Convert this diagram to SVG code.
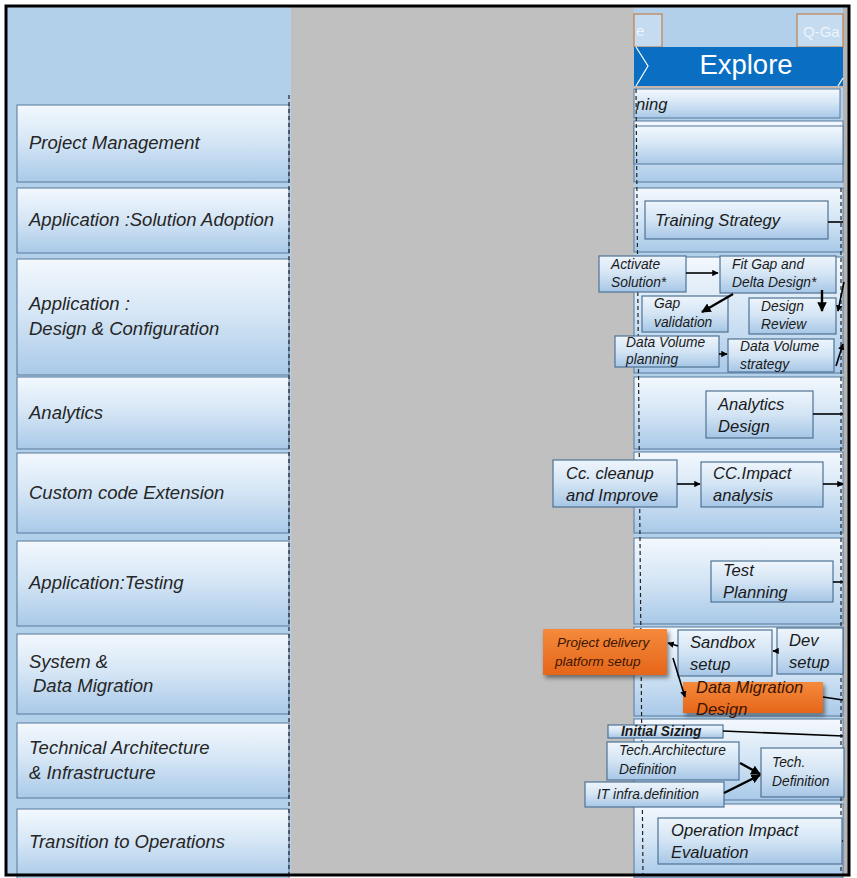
<svg xmlns="http://www.w3.org/2000/svg" width="857" height="878" viewBox="0 0 857 878">
<defs>
<linearGradient id="lane" x1="0" y1="0" x2="0" y2="1">
<stop offset="0" stop-color="#f3f8fd"/>
<stop offset="0.45" stop-color="#d7e7f6"/>
<stop offset="1" stop-color="#a9c9e8"/>
</linearGradient>
<linearGradient id="box" x1="0" y1="0" x2="0" y2="1">
<stop offset="0" stop-color="#eef5fc"/>
<stop offset="0.5" stop-color="#d3e4f4"/>
<stop offset="1" stop-color="#a6c6e6"/>
</linearGradient>
<linearGradient id="orange" x1="0" y1="0" x2="0" y2="1">
<stop offset="0" stop-color="#f58a3c"/>
<stop offset="1" stop-color="#e5661a"/>
</linearGradient>
<filter id="sh" x="-10%" y="-10%" width="130%" height="140%">
<feDropShadow dx="2" dy="3" stdDeviation="2" flood-color="#000" flood-opacity="0.45"/>
</filter>
<marker id="ah" viewBox="0 0 10 10" refX="9" refY="5" markerWidth="4" markerHeight="4" orient="auto-start-reverse">
<path d="M0,0 L10,5 L0,10 z" fill="#000"/>
</marker>
</defs>
<style>
.lane{fill:url(#lane);stroke:#56789a;stroke-width:1}
.bx{fill:url(#box);stroke:#4f7294;stroke-width:1.2}
.ob{fill:url(#orange);filter:url(#sh)}
.lt{font-family:"Liberation Sans",Arial,sans-serif;font-style:italic;font-size:18.5px;fill:#262626}
.t16{font-family:"Liberation Sans",Arial,sans-serif;font-style:italic;font-size:16.6px;fill:#1a1a1a}
.t13{font-family:"Liberation Sans",Arial,sans-serif;font-style:italic;font-size:13.8px;fill:#1a1a1a}
.ot{font-family:"Liberation Sans",Arial,sans-serif;font-style:italic;fill:#3b1500}
.dash{stroke:#222;stroke-width:1.2;stroke-dasharray:4 3;fill:none}
.cn{stroke:#000;stroke-width:1.6;fill:none}
.cnt{stroke:#000;stroke-width:2.4;fill:none}
</style>
<rect x="0" y="0" width="857" height="878" fill="#ffffff"/>
<rect x="6" y="6" width="843" height="869" fill="#b3d0eb"/>
<rect x="291" y="6" width="343" height="869" fill="#c0c0c0"/>
<rect x="843" y="6" width="6" height="869" fill="#b4b4b4"/>

<g id="left-lanes">
<g id="lane-pm"><rect class="lane" x="17" y="105" width="272" height="77"/><text class="lt" x="29" y="149">Project Management</text></g>
<g id="lane-sa"><rect class="lane" x="17" y="188" width="272" height="65"/><text class="lt" x="29" y="226">Application :Solution Adoption</text></g>
<g id="lane-dc"><rect class="lane" x="17" y="259" width="272" height="116"/><text class="lt" x="29" y="310">Application :</text><text class="lt" x="29" y="335">Design &amp; Configuration</text></g>
<g id="lane-an"><rect class="lane" x="17" y="377" width="272" height="72"/><text class="lt" x="29" y="419">Analytics</text></g>
<g id="lane-cc"><rect class="lane" x="17" y="453" width="272" height="80"/><text class="lt" x="29" y="499">Custom code Extension</text></g>
<g id="lane-te"><rect class="lane" x="17" y="541" width="272" height="85"/><text class="lt" x="29" y="589">Application:Testing</text></g>
<g id="lane-sd"><rect class="lane" x="17" y="634" width="272" height="80"/><text class="lt" x="29" y="668">System &amp;</text><text class="lt" x="33" y="692">Data Migration</text></g>
<g id="lane-ta"><rect class="lane" x="17" y="723" width="272" height="75"/><text class="lt" x="29" y="754">Technical Architecture</text><text class="lt" x="29" y="779">&amp; Infrastructure</text></g>
<g id="lane-to"><rect class="lane" x="17" y="809" width="272" height="70"/><text class="lt" x="29" y="848">Transition to Operations</text></g>
<line class="dash" x1="289" y1="95" x2="289" y2="876"/>
</g>

<g id="right-panel">
<g id="top-e"><rect x="634" y="14" width="28" height="33" fill="#c4dbf0" stroke="#c0804a" stroke-width="1.2"/><text x="636" y="36" font-family="Liberation Sans,Arial,sans-serif" font-size="15" fill="#eef4fb">e</text></g>
<g id="top-qgate"><rect x="797" y="14" width="46" height="33" fill="#c4dbf0" stroke="#c0804a" stroke-width="1.2"/><text x="803" y="37" font-family="Liberation Sans,Arial,sans-serif" font-size="15" fill="#eef4fb">Q-Ga</text></g>
<g id="explore"><rect x="634" y="47" width="209" height="39" fill="#0a6fc2"/><polyline points="636,47 648,66 636,86" fill="none" stroke="#ffffff" stroke-width="1.2"/><line x1="843" y1="78" x2="838" y2="86" stroke="#ffffff" stroke-width="1.2"/><text x="746" y="74" text-anchor="middle" font-family="Liberation Sans,Arial,sans-serif" font-size="27.5" fill="#ffffff">Explore</text></g>
<line x1="634" y1="87" x2="843" y2="87" stroke="#d9a070" stroke-width="1"/>
<g id="planning-row"><rect class="lane" x="634" y="89" width="206" height="29"/><text class="t16" x="636" y="110">ning</text></g>
<rect class="lane" x="634" y="121" width="209" height="61"/>
<rect class="lane" x="634" y="126" width="209" height="38"/>
<rect class="lane" x="634" y="188" width="209" height="64"/>
<rect class="lane" x="634" y="257" width="209" height="116"/>
<rect class="lane" x="634" y="377" width="209" height="72"/>
<rect class="lane" x="634" y="452" width="209" height="81"/>
<rect class="lane" x="634" y="538" width="209" height="86"/>
<rect class="lane" x="634" y="627" width="209" height="89"/>
<rect class="lane" x="634" y="719" width="209" height="81"/>
<rect class="lane" x="634" y="804" width="209" height="74"/>
<line class="dash" x1="636" y1="89" x2="643" y2="876"/>
<line class="dash" x1="841" y1="188" x2="841" y2="876"/>
</g>

<g id="n-training"><rect class="bx" x="645" y="201" width="183" height="38"/><text class="t16" x="655" y="226">Training Strategy</text></g>
<g id="n-activate"><rect class="bx" x="599" y="256" width="87" height="36"/><text class="t13" x="611" y="269">Activate</text><text class="t13" x="611" y="287">Solution*</text></g>
<g id="n-fitgap"><rect class="bx" x="720" y="256" width="116" height="37"/><text class="t13" x="732" y="269">Fit Gap and</text><text class="t13" x="732" y="287">Delta Design*</text></g>
<g id="n-gapval"><rect class="bx" x="642" y="296" width="86" height="36"/><text class="t13" x="654" y="308">Gap</text><text class="t13" x="654" y="327">validation</text></g>
<g id="n-designrev"><rect class="bx" x="749" y="298" width="87" height="36"/><text class="t13" x="761" y="311">Design</text><text class="t13" x="761" y="329">Review</text></g>
<g id="n-dvplan"><rect class="bx" x="615" y="336" width="104" height="31"/><text class="t13" x="626" y="347">Data Volume</text><text class="t13" x="626" y="364">planning</text></g>
<g id="n-dvstrat"><rect class="bx" x="728" y="339" width="106" height="33"/><text class="t13" x="740" y="351">Data Volume</text><text class="t13" x="740" y="369">strategy</text></g>
<g id="n-andesign"><rect class="bx" x="706" y="391" width="107" height="47"/><text class="t16" x="718" y="410">Analytics</text><text class="t16" x="718" y="432">Design</text></g>
<g id="n-cccleanup"><rect class="bx" x="553" y="460" width="124" height="47"/><text class="t16" x="566" y="479">Cc. cleanup</text><text class="t16" x="566" y="501">and Improve</text></g>
<g id="n-ccimpact"><rect class="bx" x="701" y="462" width="122" height="45"/><text class="t16" x="713" y="479">CC.Impact</text><text class="t16" x="713" y="501">analysis</text></g>
<g id="n-testplan"><rect class="bx" x="711" y="561" width="122" height="41"/><text class="t16" x="723" y="576">Test</text><text class="t16" x="723" y="598">Planning</text></g>
<g id="n-pdp"><rect class="ob" x="543" y="629" width="124" height="46"/><text class="ot" font-size="13.5" x="557" y="647">Project delivery</text><text class="ot" font-size="13.5" x="555" y="666">platform setup</text></g>
<g id="n-sandbox"><rect class="bx" x="678" y="630" width="94" height="46"/><text class="t16" x="690" y="648">Sandbox</text><text class="t16" x="690" y="670">setup</text></g>
<g id="n-dev"><rect class="bx" x="777" y="628" width="66" height="46"/><text class="t16" x="789" y="646">Dev</text><text class="t16" x="789" y="668">setup</text></g>
<g id="n-dmd"><rect class="ob" x="683" y="682" width="140" height="31"/><text class="ot" font-size="16.5" x="696" y="693">Data Migration</text><text class="ot" font-size="16.5" x="696" y="715">Design</text></g>
<g id="n-initsizing"><rect class="bx" x="608" y="725" width="115" height="13"/><text class="t13" x="621" y="736" font-weight="bold" font-size="12">Initial Sizing</text></g>
<g id="n-techarch"><rect class="bx" x="607" y="742" width="132" height="38"/><text class="t13" x="619" y="755">Tech.Architecture</text><text class="t13" x="619" y="774">Definition</text></g>
<g id="n-techdef"><rect class="bx" x="761" y="748" width="83" height="49"/><text class="t13" x="772" y="767">Tech.</text><text class="t13" x="772" y="786">Definition</text></g>
<g id="n-itinfra"><rect class="bx" x="585" y="782" width="139" height="25"/><text class="t13" x="597" y="799">IT infra.definition</text></g>
<g id="n-opimpact"><rect class="bx" x="658" y="818" width="184" height="46"/><text class="t16" x="671" y="836">Operation Impact</text><text class="t16" x="671" y="858">Evaluation</text></g>

<g id="connectors">
<line class="cn" x1="828" y1="222" x2="843" y2="222"/>
<line class="cn" x1="686" y1="273" x2="718" y2="273" marker-end="url(#ah)"/>
<line class="cnt" x1="733" y1="294" x2="702" y2="312" marker-end="url(#ah)"/>
<line class="cnt" x1="822" y1="290" x2="822" y2="311" marker-end="url(#ah)"/>
<line class="cn" x1="844" y1="282" x2="838" y2="311" marker-end="url(#ah)"/>
<line class="cn" x1="719" y1="354" x2="727" y2="354" marker-end="url(#ah)"/>
<line class="cn" x1="836" y1="366" x2="843" y2="344" marker-end="url(#ah)"/>
<line class="cn" x1="813" y1="414" x2="843" y2="414"/>
<line class="cn" x1="677" y1="484" x2="700" y2="484" marker-end="url(#ah)"/>
<line class="cn" x1="823" y1="484" x2="843" y2="484" marker-end="url(#ah)"/>
<line class="cn" x1="833" y1="582" x2="843" y2="582"/>
<line class="cn" x1="678" y1="646" x2="668" y2="643" marker-end="url(#ah)"/>
<line class="cn" x1="777" y1="651" x2="773" y2="651" marker-end="url(#ah)"/>
<line class="cn" x1="673" y1="658" x2="685" y2="697" marker-end="url(#ah)"/>
<line class="cn" x1="823" y1="697" x2="843" y2="700"/>
<line class="cn" x1="723" y1="731" x2="843" y2="736"/>
<line class="cnt" x1="740" y1="763" x2="760" y2="774" marker-end="url(#ah)"/>
<line class="cnt" x1="724" y1="793" x2="760" y2="775" marker-end="url(#ah)"/>
<line class="cn" x1="842" y1="841" x2="843" y2="841"/>
</g>
<rect x="6" y="6" width="843" height="869" fill="none" stroke="#000" stroke-width="3"/>
</svg>
